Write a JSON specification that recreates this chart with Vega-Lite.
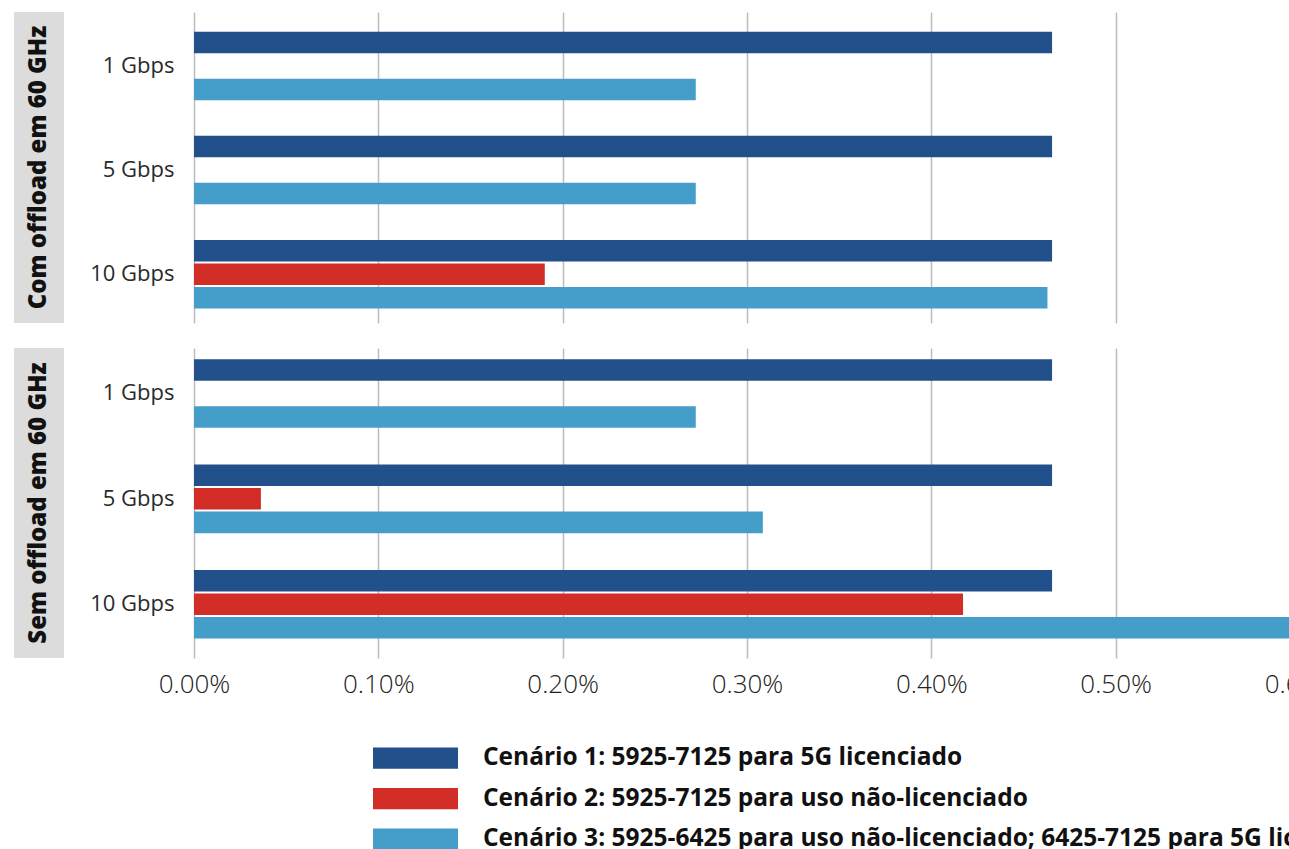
{
  "$schema": "https://vega.github.io/schema/vega-lite/v6.json",
  "padding": {"left": 14, "top": 12, "right": 0, "bottom": 0},
  "background": "white",
  "config": {"font": "Open Sans", "view": {"stroke": null}},
  "datasets": {
    "bars": [
      {"painel": "Com offload em 60 GHz", "velocidade": "1 Gbps", "cenario": "Cenário 1: 5925-7125 para 5G licenciado", "valor": 0.004655},
      {"painel": "Com offload em 60 GHz", "velocidade": "1 Gbps", "cenario": "Cenário 3: 5925-6425 para uso não-licenciado; 6425-7125 para 5G licenciado", "valor": 0.002722},
      {"painel": "Com offload em 60 GHz", "velocidade": "5 Gbps", "cenario": "Cenário 1: 5925-7125 para 5G licenciado", "valor": 0.004655},
      {"painel": "Com offload em 60 GHz", "velocidade": "5 Gbps", "cenario": "Cenário 3: 5925-6425 para uso não-licenciado; 6425-7125 para 5G licenciado", "valor": 0.002722},
      {"painel": "Com offload em 60 GHz", "velocidade": "10 Gbps", "cenario": "Cenário 1: 5925-7125 para 5G licenciado", "valor": 0.004655},
      {"painel": "Com offload em 60 GHz", "velocidade": "10 Gbps", "cenario": "Cenário 2: 5925-7125 para uso não-licenciado", "valor": 0.001903},
      {"painel": "Com offload em 60 GHz", "velocidade": "10 Gbps", "cenario": "Cenário 3: 5925-6425 para uso não-licenciado; 6425-7125 para 5G licenciado", "valor": 0.00463},
      {"painel": "Sem offload em 60 GHz", "velocidade": "1 Gbps", "cenario": "Cenário 1: 5925-7125 para 5G licenciado", "valor": 0.004655},
      {"painel": "Sem offload em 60 GHz", "velocidade": "1 Gbps", "cenario": "Cenário 3: 5925-6425 para uso não-licenciado; 6425-7125 para 5G licenciado", "valor": 0.002722},
      {"painel": "Sem offload em 60 GHz", "velocidade": "5 Gbps", "cenario": "Cenário 1: 5925-7125 para 5G licenciado", "valor": 0.004655},
      {"painel": "Sem offload em 60 GHz", "velocidade": "5 Gbps", "cenario": "Cenário 2: 5925-7125 para uso não-licenciado", "valor": 0.000363},
      {"painel": "Sem offload em 60 GHz", "velocidade": "5 Gbps", "cenario": "Cenário 3: 5925-6425 para uso não-licenciado; 6425-7125 para 5G licenciado", "valor": 0.003086},
      {"painel": "Sem offload em 60 GHz", "velocidade": "10 Gbps", "cenario": "Cenário 1: 5925-7125 para 5G licenciado", "valor": 0.004655},
      {"painel": "Sem offload em 60 GHz", "velocidade": "10 Gbps", "cenario": "Cenário 2: 5925-7125 para uso não-licenciado", "valor": 0.004172},
      {"painel": "Sem offload em 60 GHz", "velocidade": "10 Gbps", "cenario": "Cenário 3: 5925-6425 para uso não-licenciado; 6425-7125 para 5G licenciado", "valor": 0.006}
    ]
  },
  "spacing": 25,
  "vconcat": [
    {
      "spacing": 20,
      "hconcat": [
        {
          "width": 50,
          "height": 311,
          "data": {"values": [{"painel": "Com offload em 60 GHz"}]},
          "view": {"fill": "#dcdcdc", "stroke": null},
          "mark": {"type": "text", "angle": 270, "fontSize": 24, "fontWeight": 800, "font": "Open Sans", "color": "#111111"},
          "encoding": {"text": {"field": "painel", "type": "nominal"}}
        },
        {
          "width": 1106,
          "height": 311,
          "data": {"name": "bars"},
          "transform": [{"filter": "datum.painel === 'Com offload em 60 GHz'"}],
          "mark": {"type": "bar"},
          "encoding": {
            "y": {
              "field": "velocidade", "type": "nominal",
              "sort": ["1 Gbps", "5 Gbps", "10 Gbps"],
              "scale": {"paddingInner": 0.342, "paddingOuter": 0.164, "align": 0.576},
              "axis": {"title": null, "ticks": false, "domain": false, "grid": false, "labelPadding": 20, "minExtent": 110, "maxExtent": 110, "labelFont": "Open Sans", "labelFontSize": 22, "labelFontWeight": "normal", "labelColor": "#2a2a2a"}
            },
            "yOffset": {
              "field": "cenario", "type": "nominal",
              "scale": {"domain": ["Cenário 1: 5925-7125 para 5G licenciado", "Cenário 2: 5925-7125 para uso não-licenciado", "Cenário 3: 5925-6425 para uso não-licenciado; 6425-7125 para 5G licenciado"], "paddingInner": 0.085, "paddingOuter": 0}
            },
            "x": {
              "field": "valor", "type": "quantitative",
              "scale": {"domain": [0, 0.006], "nice": false},
              "axis": {"title": null, "labels": false, "ticks": false, "domain": false, "grid": true, "gridColor": "#bdbdbd", "gridWidth": 1.5, "values": [0, 0.001, 0.002, 0.003, 0.004, 0.005, 0.006], "minExtent": 0, "maxExtent": 0}
            },
            "color": {
              "field": "cenario", "type": "nominal",
              "scale": {"domain": ["Cenário 1: 5925-7125 para 5G licenciado", "Cenário 2: 5925-7125 para uso não-licenciado", "Cenário 3: 5925-6425 para uso não-licenciado; 6425-7125 para 5G licenciado"], "range": ["#21508a", "#d22e27", "#459dca"]},
              "legend": {"orient": "none", "legendX": 359, "legendY": 726, "title": null, "symbolType": "M-1,-0.25L1,-0.25L1,0.25L-1,0.25Z", "symbolSize": 7225, "symbolStrokeWidth": 0, "symbolOpacity": 1, "clipHeight": 40, "rowPadding": 0.5, "labelOffset": 25, "labelFontSize": 24.5, "labelFont": "Open Sans", "labelFontWeight": "bold", "labelColor": "#111111", "labelLimit": 3000, "padding": 0}
            }
          }
        }
      ]
    },
    {
      "spacing": 20,
      "hconcat": [
        {
          "width": 50,
          "height": 310,
          "data": {"values": [{"painel": "Sem offload em 60 GHz"}]},
          "view": {"fill": "#dcdcdc", "stroke": null},
          "mark": {"type": "text", "angle": 270, "fontSize": 24, "fontWeight": 800, "font": "Open Sans", "color": "#111111"},
          "encoding": {"text": {"field": "painel", "type": "nominal"}}
        },
        {
          "width": 1106,
          "height": 310,
          "data": {"name": "bars"},
          "transform": [{"filter": "datum.painel === 'Sem offload em 60 GHz'"}],
          "mark": {"type": "bar"},
          "encoding": {
            "y": {
              "field": "velocidade", "type": "nominal",
              "sort": ["1 Gbps", "5 Gbps", "10 Gbps"],
              "scale": {"paddingInner": 0.354, "paddingOuter": 0.149, "align": 0.36},
              "axis": {"title": null, "ticks": false, "domain": false, "grid": false, "labelPadding": 20, "minExtent": 110, "maxExtent": 110, "labelFont": "Open Sans", "labelFontSize": 22, "labelFontWeight": "normal", "labelColor": "#2a2a2a"}
            },
            "yOffset": {
              "field": "cenario", "type": "nominal",
              "scale": {"domain": ["Cenário 1: 5925-7125 para 5G licenciado", "Cenário 2: 5925-7125 para uso não-licenciado", "Cenário 3: 5925-6425 para uso não-licenciado; 6425-7125 para 5G licenciado"], "paddingInner": 0.085, "paddingOuter": 0}
            },
            "x": {
              "field": "valor", "type": "quantitative",
              "scale": {"domain": [0, 0.006], "nice": false},
              "axis": {"title": null, "format": ".2%", "labelFlush": false, "labelOverlap": false, "ticks": false, "domain": false, "grid": true, "gridColor": "#bdbdbd", "gridWidth": 1.5, "values": [0, 0.001, 0.002, 0.003, 0.004, 0.005, 0.006], "labelPadding": 13, "labelFont": "Open Sans", "labelFontSize": 26, "labelFontWeight": 300, "labelColor": "#222222"}
            },
            "color": {
              "field": "cenario", "type": "nominal",
              "scale": {"domain": ["Cenário 1: 5925-7125 para 5G licenciado", "Cenário 2: 5925-7125 para uso não-licenciado", "Cenário 3: 5925-6425 para uso não-licenciado; 6425-7125 para 5G licenciado"], "range": ["#21508a", "#d22e27", "#459dca"]},
              "legend": {"orient": "none", "legendX": 359, "legendY": 726, "title": null, "symbolType": "M-1,-0.25L1,-0.25L1,0.25L-1,0.25Z", "symbolSize": 7225, "symbolStrokeWidth": 0, "symbolOpacity": 1, "clipHeight": 40, "rowPadding": 0.5, "labelOffset": 25, "labelFontSize": 24.5, "labelFont": "Open Sans", "labelFontWeight": "bold", "labelColor": "#111111", "labelLimit": 3000, "padding": 0}
            }
          }
        }
      ]
    }
  ]
}
